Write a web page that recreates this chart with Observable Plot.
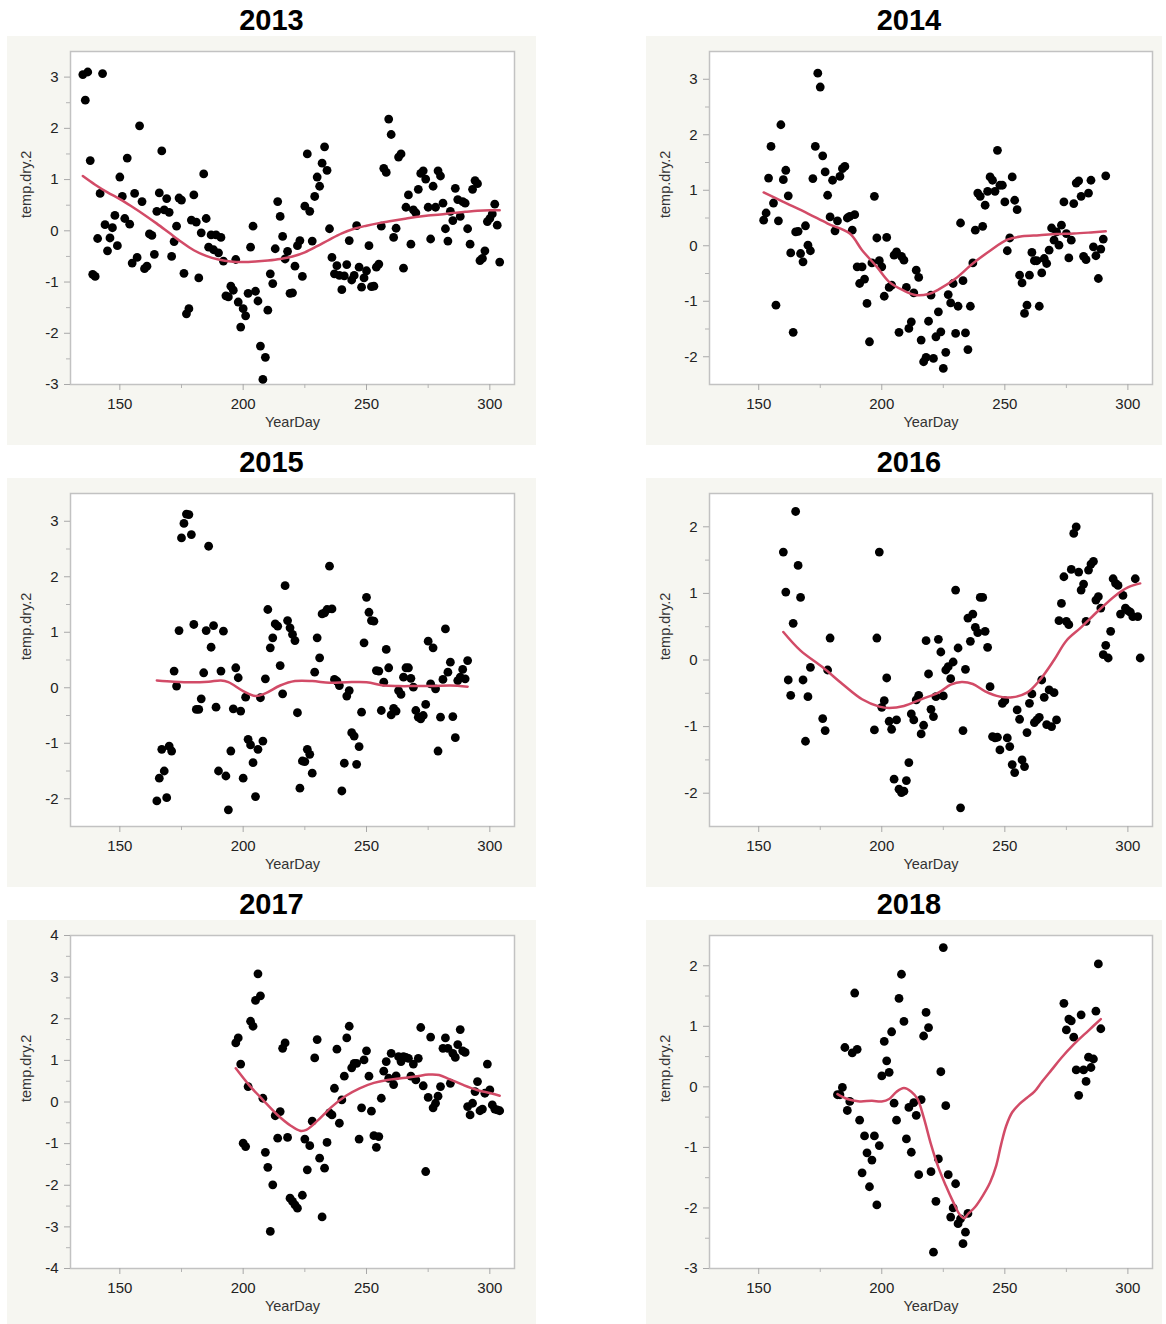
<!DOCTYPE html>
<html>
<head>
<meta charset="utf-8">
<script src="https://cdn.jsdelivr.net/npm/d3@7"></script>
<script src="https://cdn.jsdelivr.net/npm/@observablehq/plot@0.6"></script>
<style>
  html, body { margin: 0; padding: 0; background: #fff; }
  #page { position: relative; width: 1166px; height: 1324px; overflow: hidden;
          font-family: "Liberation Sans", Arial, Helvetica, sans-serif; }
  .panel { position: absolute; background: #f6f6f1; }
  .panel svg { display: block; }
  .title { position: absolute; font-weight: bold; font-size: 29px; line-height: 29px;
           text-align: center; color: #000; width: 200px; }
</style>
</head>
<body>
<div id="page"></div>
<script>
// ---- Daily temperature anomalies (temp.dry.2) by YearDay, one set per season ----

const xLabel = "YearDay";
const yLabel = "temp.dry.2";
const xTicks = [150, 200, 250, 300];
const xMinorTicks = [175, 225, 275];

// 2013
const day2013 = [
  135, 136, 137, 138, 139, 140, 141, 142, 143, 144,
  145, 146, 147, 148, 149, 150, 151, 152, 153, 154,
  155, 156, 157, 158, 159, 160, 161, 162, 163, 164,
  165, 166, 167, 168, 169, 170, 171, 172, 173, 174,
  175, 176, 177, 178, 179, 180, 181, 182, 183, 184,
  185, 186, 187, 188, 189, 190, 191, 192, 193, 194,
  195, 196, 197, 198, 199, 200, 201, 202, 203, 204,
  205, 206, 207, 208, 209, 210, 211, 212, 213, 214,
  215, 216, 217, 218, 219, 220, 221, 222, 223, 224,
  225, 226, 227, 228, 229, 230, 231, 232, 233, 234,
  235, 236, 237, 238, 239, 240, 241, 242, 243, 244,
  245, 246, 247, 248, 249, 250, 251, 252, 253, 254,
  255, 256, 257, 258, 259, 260, 261, 262, 263, 264,
  265, 266, 267, 268, 269, 270, 271, 272, 273, 274,
  275, 276, 277, 278, 279, 280, 281, 282, 283, 284,
  285, 286, 287, 288, 289, 290, 291, 292, 293, 294,
  295, 296, 297, 298, 299, 300, 301, 302, 303, 304
];
const temp2013 = [
  3.05, 2.55, 3.10, 1.37, -0.85, -0.89, -0.15, 0.73, 3.07, 0.12,
  -0.39, -0.14, 0.06, 0.30, -0.29, 1.05, 0.67, 0.24, 1.42, 0.13,
  -0.63, 0.73, -0.52, 2.05, 0.57, -0.74, -0.69, -0.06, -0.09, -0.46,
  0.38, 0.74, 1.56, 0.41, 0.63, 0.36, -0.50, -0.21, 0.09, 0.64,
  0.60, -0.83, -1.62, -1.52, 0.21, 0.70, 0.17, -0.92, -0.04, 1.11,
  0.24, -0.32, -0.08, -0.37, -0.08, -0.43, -0.13, -0.59, -1.27, -1.29,
  -1.08, -1.16, -0.56, -1.39, -1.88, -1.52, -1.66, -1.22, -0.32, 0.09,
  -1.18, -1.37, -2.25, -2.90, -2.47, -1.55, -0.84, -1.03, -0.35, 0.57,
  0.28, -0.11, -0.55, -0.40, -1.22, -1.21, -0.69, -0.29, -0.19, -0.89,
  0.48, 1.50, 0.38, -0.20, 0.67, 1.05, 0.87, 1.32, 1.64, 1.18,
  0.04, -0.52, -0.84, -0.68, -0.87, -1.15, -0.88, -0.66, -0.19, -0.96,
  -0.87, 0.10, -0.71, -1.10, -0.92, -0.78, -0.29, -1.09, -1.08, -0.71,
  -0.65, 0.09, 1.22, 1.14, 2.18, 1.88, -0.13, 0.05, 1.44, 1.50,
  -0.73, 0.46, 0.70, -0.26, 0.41, 0.35, 0.81, 1.12, 1.17, 1.01,
  0.46, -0.16, 0.87, 0.46, 1.17, 1.07, 0.54, 0.04, -0.20, 0.38,
  0.20, 0.83, 0.61, 0.28, 0.57, 0.54, 0.04, -0.26, 0.81, 0.98,
  0.92, -0.58, -0.54, -0.39, 0.18, 0.24, 0.33, 0.52, 0.11, -0.61
];
const smoothDay2013 = [135, 140, 145, 150, 155, 160, 165, 170, 175, 180, 185, 190, 195, 200, 205, 210, 215, 220,
  225, 230, 235, 240, 245, 250, 255, 260, 265, 270, 275, 280, 285, 290, 295, 300, 304];
const smooth2013 = [1.07, 0.90, 0.75, 0.62, 0.47, 0.31, 0.14, -0.04, -0.22, -0.38, -0.49, -0.56, -0.60, -0.61, -0.60, -0.58, -0.55, -0.50,
  -0.42, -0.30, -0.17, -0.05, 0.04, 0.10, 0.15, 0.19, 0.23, 0.27, 0.30, 0.32, 0.35, 0.37, 0.39, 0.40, 0.40];
const yTicks2013 = [-3, -2, -1, 0, 1, 2, 3];

// 2014
const day2014 = [
  152, 153, 154, 155, 156, 157, 158, 159, 160, 161,
  162, 163, 164, 165, 166, 167, 168, 169, 170, 171,
  172, 173, 174, 175, 176, 177, 178, 179, 180, 181,
  182, 183, 184, 185, 186, 187, 188, 189, 190, 191,
  192, 193, 194, 195, 196, 197, 198, 199, 200, 201,
  202, 203, 204, 205, 206, 207, 208, 209, 210, 211,
  212, 213, 214, 215, 216, 217, 218, 219, 220, 221,
  222, 223, 224, 225, 226, 227, 228, 229, 230, 231,
  232, 233, 234, 235, 236, 237, 238, 239, 240, 241,
  242, 243, 244, 245, 246, 247, 248, 249, 250, 251,
  252, 253, 254, 255, 256, 257, 258, 259, 260, 261,
  262, 263, 264, 265, 266, 267, 268, 269, 270, 271,
  272, 273, 274, 275, 276, 277, 278, 279, 280, 281,
  282, 283, 284, 285, 286, 287, 288, 289, 290, 291
];
const temp2014 = [
  0.46, 0.59, 1.22, 1.79, 0.77, -1.07, 0.45, 2.18, 1.19, 1.36,
  0.90, -0.13, -1.56, 0.25, 0.26, -0.14, -0.29, 0.36, 0.01, -0.09,
  1.21, 1.79, 3.11, 2.86, 1.62, 1.33, 0.91, 0.52, 1.18, 0.27,
  0.45, 1.25, 1.39, 1.43, 0.50, 0.53, 0.28, 0.56, -0.38, -0.68,
  -0.38, -0.60, -1.04, -1.73, -0.31, 0.89, 0.14, -0.27, -0.38, -0.91,
  0.15, -0.75, -0.71, -0.17, -0.11, -1.56, -0.19, -0.26, -0.75, -1.49,
  -1.37, -0.85, -0.44, -0.57, -1.70, -2.09, -2.01, -1.36, -0.89, -2.03,
  -1.64, -1.19, -1.55, -2.21, -1.92, -0.88, -1.03, -0.68, -1.58, -1.09,
  0.41, -0.63, -1.57, -1.87, -1.09, -0.31, 0.28, 0.95, 0.89, 0.35,
  0.73, 0.98, 1.24, 1.18, 0.98, 1.72, 1.09, 1.09, 0.79, -0.09,
  0.14, 1.24, 0.82, 0.65, -0.53, -0.67, -1.22, -1.07, -0.53, -0.12,
  -0.27, -0.27, -1.09, -0.49, -0.23, -0.32, -0.08, 0.32, 0.10, 0.25,
  0.01, 0.37, 0.79, 0.22, -0.22, 0.10, 0.76, 1.13, 1.17, 0.89,
  -0.19, -0.25, 0.95, 1.18, -0.02, -0.18, -0.59, -0.06, 0.12, 1.26
];
const smoothDay2014 = [152, 160, 170, 178, 187, 192, 198, 203, 209, 214, 219, 223, 230, 237, 244, 251, 257, 264, 271, 278, 285, 291];
const smooth2014 = [0.96, 0.79, 0.58, 0.40, 0.22, -0.08, -0.38, -0.65, -0.81, -0.89, -0.87, -0.79, -0.59, -0.32, -0.09, 0.11, 0.17, 0.19, 0.21, 0.22, 0.24, 0.26];
const yTicks2014 = [-2, -1, 0, 1, 2, 3];

// 2015
const day2015 = [
  165, 166, 167, 168, 169, 170, 171, 172, 173, 174,
  175, 176, 177, 178, 179, 180, 181, 182, 183, 184,
  185, 186, 187, 188, 189, 190, 191, 192, 193, 194,
  195, 196, 197, 198, 199, 200, 201, 202, 203, 204,
  205, 206, 207, 208, 209, 210, 211, 212, 213, 214,
  215, 216, 217, 218, 219, 220, 221, 222, 223, 224,
  225, 226, 227, 228, 229, 230, 231, 232, 233, 234,
  235, 236, 237, 238, 239, 240, 241, 242, 243, 244,
  245, 246, 247, 248, 249, 250, 251, 252, 253, 254,
  255, 256, 257, 258, 259, 260, 261, 262, 263, 264,
  265, 266, 267, 268, 269, 270, 271, 272, 273, 274,
  275, 276, 277, 278, 279, 280, 281, 282, 283, 284,
  285, 286, 287, 288, 289, 290, 291
];
const temp2015 = [
  -2.04, -1.63, -1.11, -1.50, -1.98, -1.05, -1.14, 0.30, 0.03, 1.03,
  2.70, 2.96, 3.13, 3.12, 2.76, 1.14, -0.39, -0.39, -0.20, 0.27,
  1.03, 2.55, 0.73, 1.12, -0.35, -1.50, 0.30, 1.02, -1.59, -2.20,
  -1.14, -0.38, 0.36, 0.18, -0.42, -1.63, -0.17, -0.93, -1.03, -1.35,
  -1.96, -1.11, -0.18, -0.96, 0.16, 1.41, 0.72, 0.90, 1.15, 1.11,
  0.40, -0.11, 1.84, 1.21, 1.08, 0.96, 0.85, -0.45, -1.81, -1.32,
  -1.33, -1.11, -1.20, -1.54, 0.28, 0.90, 0.54, 1.33, 1.35, 1.41,
  2.19, 1.42, 0.15, 0.12, 0.04, -1.86, -1.36, -0.15, -0.05, -0.81,
  -0.87, -1.38, -1.06, -0.44, 0.81, 1.63, 1.36, 1.21, 1.20, 0.31,
  0.30, -0.41, 0.10, 0.69, 0.36, -0.49, -0.37, -0.42, -0.05, -0.12,
  0.19, 0.36, 0.36, 0.17, 0.01, -0.41, -0.53, -0.56, -0.50, -0.30,
  0.84, 0.07, 0.72, -0.02, -1.14, -0.53, 0.15, 1.06, 0.28, 0.46,
  -0.52, -0.90, 0.13, 0.19, 0.33, 0.16, 0.49
];
const smoothDay2015 = [165, 172, 179, 186, 191, 194, 200, 205, 209, 215, 221, 228, 235, 242, 250, 257, 263, 270, 277, 284, 291];
const smooth2015 = [0.13, 0.11, 0.10, 0.11, 0.13, 0.10, -0.06, -0.15, -0.10, 0.04, 0.12, 0.12, 0.09, 0.10, 0.10, 0.04, 0.03, 0.03, 0.03, 0.04, 0.02];
const yTicks2015 = [-2, -1, 0, 1, 2, 3];

// 2016
const day2016 = [
  160, 161, 162, 163, 164, 165, 166, 167, 168, 169, 170, 171,
  176, 177, 178, 179,
  197, 198, 199, 200, 201, 202, 203, 204, 205, 206,
  207, 208, 209, 210, 211, 212, 213, 214, 215, 216,
  217, 218, 219, 220, 221, 222, 223, 224, 225, 226,
  227, 228, 229, 230, 231, 232, 233, 234, 235, 236,
  237, 238, 239, 240, 241, 242, 243, 244, 245, 246,
  247, 248, 249, 250, 251, 252, 253, 254, 255, 256,
  257, 258, 259, 260, 261, 262, 263, 264, 265, 266,
  267, 268, 269, 270, 271, 272, 273, 274, 275, 276,
  277, 278, 279, 280, 281, 282, 283, 284, 285, 286,
  287, 288, 289, 290, 291, 292, 293, 294, 295, 296,
  297, 298, 299, 300, 301, 302, 303, 304, 305
];
const temp2016 = [
  1.62, 1.02, -0.30, -0.53, 0.55, 2.23, 1.42, 0.94, -0.30, -1.22, -0.55, -0.11,
  -0.88, -1.06, -0.15, 0.33,
  -1.05, 0.33, 1.62, -0.71, -0.61, -0.27, -0.92, -1.04, -1.79, -0.90,
  -1.94, -1.99, -1.97, -1.81, -1.54, -0.81, -0.90, -0.60, -0.53, -1.11,
  -0.98, 0.29, -0.21, -0.74, -0.85, -0.55, 0.31, 0.12, -0.54, -0.15,
  -0.10, -0.28, -0.03, 1.05, 0.18, -2.22, -1.06, -0.14, 0.63, 0.28,
  0.69, 0.49, 0.41, 0.94, 0.94, 0.43, 0.19, -0.40, -1.15, -1.17,
  -1.16, -1.35, -0.65, -0.61, -1.17, -1.30, -1.57, -1.69, -0.75, -0.89,
  -1.50, -1.60, -1.09, -0.65, -0.51, -0.94, -0.90, -0.86, -0.30, -0.56,
  -0.97, -0.45, -1.00, -0.49, -0.90, 0.59, 0.85, 1.25, 0.58, 0.53,
  1.36, 1.90, 2.00, 1.32, 1.05, 1.14, 0.58, 1.35, 1.44, 1.48,
  0.90, 0.95, 0.78, 0.08, 0.22, 0.03, 0.43, 1.22, 1.15, 1.12,
  0.69, 0.97, 0.78, 0.74, 0.72, 0.65, 1.22, 0.65, 0.03
];
const smoothDay2016 = [160, 167, 176, 184, 192, 199, 203, 209, 216, 223, 228, 232.5, 237, 242, 248, 253, 259, 264, 270, 275, 281, 288, 295, 300, 305];
const smooth2016 = [0.42, 0.14, -0.11, -0.36, -0.59, -0.70, -0.72, -0.69, -0.59, -0.49, -0.37, -0.33, -0.36, -0.47, -0.55, -0.56, -0.49, -0.31, 0.00, 0.29, 0.49, 0.74, 0.97, 1.09, 1.15];
const yTicks2016 = [-2, -1, 0, 1, 2];

// 2017
const day2017 = [
  197, 198, 199, 200, 201, 202, 203, 204, 205, 206,
  207, 208, 209, 210, 211, 212, 213, 214, 215, 216,
  217, 218, 219, 220, 221, 222,
  224, 225, 226, 227, 228, 229, 230, 231, 232, 233,
  234, 235, 236, 237, 238, 239, 240, 241, 242, 243,
  244, 245, 246, 247, 248, 249, 250, 251, 252, 253,
  254, 255, 256, 257, 258, 259, 260, 261, 262, 263,
  264, 265, 266, 267, 268, 269, 270, 271, 272, 273,
  274, 275, 276, 277, 278, 279, 280, 281, 282, 283,
  284, 285, 286, 287, 288, 289, 290, 291, 292, 293,
  294, 295, 296, 297, 298, 299, 300, 301, 302, 303, 304
];
const temp2017 = [
  1.42, 1.54, 0.91, -0.99, -1.07, 0.37, 1.94, 1.82, 2.44, 3.08,
  2.55, 0.09, -1.21, -1.57, -3.11, -1.99, -0.33, -0.87, -0.23, 1.29,
  1.42, -0.85, -2.31, -2.39, -2.47, -2.55,
  -2.24, -0.89, -1.63, -1.05, -0.46, 1.06, 1.50, -1.35, -2.76, -1.59,
  -0.97, -0.26, -0.31, 0.33, 1.27, -0.51, 0.05, 0.62, 1.54, 1.82,
  0.82, 0.93, 0.93, -0.89, -0.14, 1.01, 1.23, 0.62, -0.22, -0.81,
  -1.09, -0.83, 0.09, 0.74, 0.97, 0.57, 1.17, 0.42, 0.63, 1.09,
  0.97, 1.09, 1.07, 1.05, 0.62, 0.91, 0.53, 1.05, 1.79, 0.39,
  -1.67, 0.11, 1.56, -0.14, -0.03, 0.14, 0.37, 1.29, 1.54, 1.29,
  0.45, 1.17, 1.07, 1.38, 1.74, 1.23, 1.19, -0.11, -0.31, -0.03,
  0.25, 0.49, -0.21, -0.17, 0.21, 0.91, 0.29, -0.07, -0.17, -0.19, -0.21
];
const smoothDay2017 = [197, 202.5, 208, 213.7, 219.3, 223, 225.6, 230.5, 236, 241.7, 247.2, 253, 258.5, 264, 269.7, 275.2, 279.4, 283.6, 289.2, 294.8, 300.4, 304];
const smooth2017 = [0.81, 0.40, 0.05, -0.30, -0.57, -0.69, -0.67, -0.43, -0.11, 0.15, 0.33, 0.46, 0.53, 0.57, 0.61, 0.66, 0.65, 0.55, 0.41, 0.29, 0.21, 0.15];
const yTicks2017 = [-4, -3, -2, -1, 0, 1, 2, 3, 4];

// 2018
const day2018 = [
  182, 183, 184, 185, 186, 187, 188, 189, 190, 191,
  192, 193, 194, 195, 196, 197, 198, 199, 200, 201,
  202, 203, 204, 205, 206, 207, 208, 209, 210, 211,
  212, 213, 214, 215, 216, 217, 218, 219, 220, 221,
  222, 223, 224, 225, 226, 227, 228, 229, 230, 231,
  232, 233, 234, 235,
  274, 275, 276, 277, 278, 279, 280, 281, 282, 283,
  284, 285, 286, 287, 288, 289
];
const temp2018 = [
  -0.13, -0.13, -0.01, 0.65, -0.39, -0.24, 0.56, 1.55, 0.62, -0.55,
  -1.42, -0.81, -1.09, -1.65, -1.21, -0.81, -1.95, -0.97, 0.18, 0.75,
  0.43, 0.24, 0.91, -0.27, -0.55, 1.46, 1.86, 1.08, -0.86, -0.34,
  -1.08, -0.26, -0.47, -1.45, -0.21, 0.84, 1.23, 0.98, -1.40, -2.73,
  -1.89, -1.19, 0.25, 2.30, -0.31, -1.45, -2.15, -2.00, -1.60, -2.26,
  -2.18, -2.59, -2.40, -2.09,
  1.38, 0.94, 1.12, 1.09, 0.82, 0.28, -0.14, 1.19, 0.28, 0.09,
  0.49, 0.32, 0.46, 1.25, 2.03, 0.96
];
const smoothDay2018 = [182, 186, 191, 196, 200, 203, 206, 209, 212, 214.5, 217, 220, 223, 226, 229, 231.5, 233.5, 235,
  238, 241, 244, 246.5, 248.5, 250.5, 253, 256, 259, 262, 265, 269, 273, 278, 284, 289];
const smooth2018 = [-0.12, -0.20, -0.24, -0.23, -0.24, -0.20, -0.08, -0.02, -0.08, -0.20, -0.50, -0.95, -1.33, -1.63, -1.90, -2.10, -2.17, -2.10,
  -1.98, -1.80, -1.58, -1.30, -0.95, -0.65, -0.42, -0.28, -0.18, -0.08, 0.08, 0.28, 0.48, 0.70, 0.93, 1.12];
const yTicks2018 = [-3, -2, -1, 0, 1, 2];

// ---- Panel layout: two columns, three rows ----
const seasons = [
  {title: "2013", days: day2013, temps: temp2013, sDays: smoothDay2013, sTemps: smooth2013, yDomain: [-3, 3.5], yTicks: yTicks2013},
  {title: "2014", days: day2014, temps: temp2014, sDays: smoothDay2014, sTemps: smooth2014, yDomain: [-2.5, 3.5], yTicks: yTicks2014},
  {title: "2015", days: day2015, temps: temp2015, sDays: smoothDay2015, sTemps: smooth2015, yDomain: [-2.5, 3.5], yTicks: yTicks2015},
  {title: "2016", days: day2016, temps: temp2016, sDays: smoothDay2016, sTemps: smooth2016, yDomain: [-2.5, 2.5], yTicks: yTicks2016},
  {title: "2017", days: day2017, temps: temp2017, sDays: smoothDay2017, sTemps: smooth2017, yDomain: [-4, 4], yTicks: yTicks2017},
  {title: "2018", days: day2018, temps: temp2018, sDays: smoothDay2018, sTemps: smooth2018, yDomain: [-3, 2.5], yTicks: yTicks2018}
];

const columns = [
  {left: 7, width: 529, marginRight: 22, titleCenter: 271.5},
  {left: 646, width: 516, marginRight: 10, titleCenter: 909}
];
const rowTops = [36, 478, 920];
const panelHeight = 409;

const page = document.getElementById("page");

function halfSteps(ticks, domain) {
  const out = [];
  for (let i = 0; i < ticks.length - 1; i++) out.push((ticks[i] + ticks[i + 1]) / 2);
  const lo = ticks[0] - 0.5, hi = ticks[ticks.length - 1] + 0.5;
  if (lo > domain[0]) out.unshift(lo);
  if (hi < domain[1]) out.push(hi);
  return out;
}

seasons.forEach((s, i) => {
  const col = columns[i % 2];
  const top = rowTops[Math.floor(i / 2)];

  const points = s.days.map((d, j) => ({day: d, temp: s.temps[j]}));
  const smooth = s.sDays.map((d, j) => ({day: d, temp: s.sTemps[j]}));
  const yMinor = halfSteps(s.yTicks, s.yDomain);

  const chart = Plot.plot({
    width: col.width,
    height: panelHeight,
    marginLeft: 63,
    marginRight: col.marginRight,
    marginTop: 15,
    marginBottom: 61,
    style: {
      background: "transparent",
      fontFamily: "'Liberation Sans', Arial, Helvetica, sans-serif",
      fontSize: "15px",
      overflow: "visible"
    },
    x: {domain: [130, 310]},
    y: {domain: s.yDomain},
    marks: [
      Plot.frame({fill: "#fff", stroke: "#c2c2c2", strokeWidth: 1.5}),
      Plot.axisX(xTicks, {tickSize: 6, tickPadding: 8, tickFormat: (d) => String(d), stroke: "#a8a8a8", fill: "#222", label: null}),
      Plot.axisX(xMinorTicks, {tickSize: 4, tickFormat: () => "", stroke: "#b4b4b4", label: null}),
      Plot.axisY(s.yTicks, {tickSize: 6, tickPadding: 6, tickFormat: (d) => String(d), stroke: "#a8a8a8", fill: "#222", label: null}),
      Plot.axisY(yMinor, {tickSize: 4, tickFormat: () => "", stroke: "#b4b4b4", label: null}),
      Plot.dot(points, {x: "day", y: "temp", r: 4.4, fill: "#000"}),
      Plot.line(smooth, {x: "day", y: "temp", stroke: "#d24b67", strokeWidth: 2.5, curve: "catmull-rom"}),
      Plot.text([xLabel], {frameAnchor: "bottom", dy: 42, lineAnchor: "bottom", text: (d) => d, fontSize: 14.5, fill: "#333"}),
      Plot.text([yLabel], {frameAnchor: "left", dx: -44, rotate: -90, text: (d) => d, fontSize: 14.5, fill: "#333"})
    ]
  });

  const panel = document.createElement("div");
  panel.className = "panel";
  panel.style.left = col.left + "px";
  panel.style.top = top + "px";
  panel.style.width = col.width + "px";
  panel.style.height = panelHeight + "px";
  panel.appendChild(chart);
  page.appendChild(panel);

  const title = document.createElement("div");
  title.className = "title";
  title.textContent = s.title;
  title.style.left = (col.titleCenter - 100) + "px";
  title.style.top = (top - 30.5) + "px";
  page.appendChild(title);
});
</script>
</body>
</html>
